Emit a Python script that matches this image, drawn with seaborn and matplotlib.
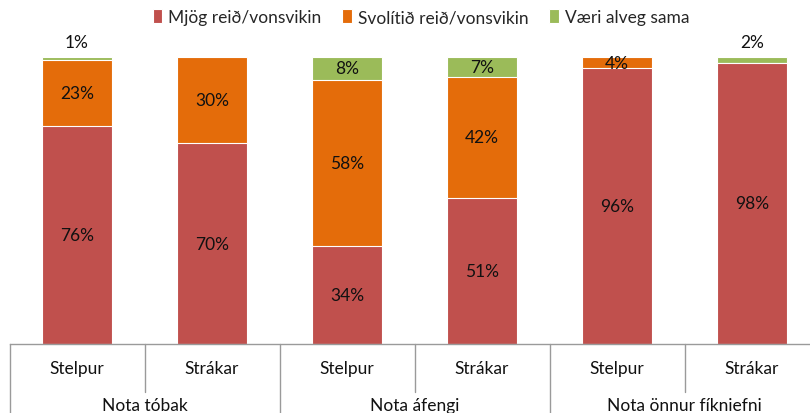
import numpy as np
import pandas as pd
import matplotlib
matplotlib.use("Agg")
import matplotlib.pyplot as plt
import seaborn as sns

# data
groups = ["Nota tóbak", "Nota áfengi", "Nota önnur fíkniefni"]
sexes = ["Stelpur", "Strákar"]
series = ["Mjög reið/vonsvikin", "Svolítið reið/vonsvikin", "Væri alveg sama"]
mjog = [76, 70, 34, 51, 96, 98]
svolitid = [23, 30, 58, 42, 4, 0]
sama = [1, 0, 8, 7, 0, 2]
colors = ["#C0504D", "#E46C0A", "#9BBB59"]

sns.set_theme(style="white")
plt.rcParams["font.family"] = ["Lato", "DejaVu Sans"]
fs = 12.5

keys = [f"{g}|{s}" for g in groups for s in sexes]
df = pd.DataFrame({"key": keys, "mjog": mjog, "svolitid": svolitid, "sama": sama})
df["c1"] = df["mjog"]
df["c2"] = df["mjog"] + df["svolitid"]
df["c3"] = df["c2"] + df["sama"]

fig = plt.figure(figsize=(8.1, 4.14), dpi=100)
ax = fig.add_axes([9.5 / 810, 69 / 414, 810 / 810, 287 / 414])

# overlay bars from the tallest cumulative down
for col, c, lab in zip(["c3", "c2", "c1"], colors[::-1], series[::-1]):
    sns.barplot(data=df, x="key", y=col, order=keys, color=c, width=0.52,
                edgecolor="white", linewidth=0.8, saturation=1, ax=ax, label=lab)
if ax.get_legend() is not None:
    ax.get_legend().remove()

ax.set_ylim(0, 100)
ax.set_xlim(-0.5, 5.5)
ax.set_xticks([])
ax.set_yticks([])
ax.set_xlabel("")
ax.set_ylabel("")
for s in ["left", "top", "right"]:
    ax.spines[s].set_visible(False)
ax.spines["bottom"].set_color("#9a9a9a")
ax.spines["bottom"].set_linewidth(1)

# value labels
for i in range(len(keys)):
    bottoms = [0, mjog[i], mjog[i] + svolitid[i]]
    for v, b in zip([mjog[i], svolitid[i], sama[i]], bottoms):
        if v == 0:
            continue
        if v < 3:
            ax.annotate(f"{v}%", (i, b + v), xytext=(0, 11), textcoords="offset points",
                        ha="center", va="center", fontsize=fs, color="#111111")
        else:
            ax.text(i, b + v / 2, f"{v}%", ha="center", va="center",
                    fontsize=fs, color="#111111")

# two-level category axis
trans = ax.get_xaxis_transform()
for i, k in enumerate(keys):
    ax.text(i, -24 / 287, k.split("|")[1], transform=trans, ha="center", va="center",
            fontsize=fs, color="#111111")
for gi, g in enumerate(groups):
    ax.text(gi * 2 + 0.5, -61 / 287, g, transform=trans, ha="center", va="center",
            fontsize=fs, color="#111111")
for d in range(7):
    x = d - 0.5
    ybot = -69 / 287 if d % 2 == 0 else -48 / 287
    ax.plot([x, x], [0, ybot], transform=trans, color="#9a9a9a", lw=1, clip_on=False)

handles, labels = ax.get_legend_handles_labels()
order = [labels.index(s) for s in series]
leg = fig.legend([handles[o] for o in order], series, loc="center",
                 bbox_to_anchor=(421 / 810, 1 - 18 / 414), ncol=3, frameon=False,
                 fontsize=fs, handlelength=0.55, handleheight=0.8, handletextpad=0.35,
                 columnspacing=1.2)

fig.savefig("out.png", dpi=100)
